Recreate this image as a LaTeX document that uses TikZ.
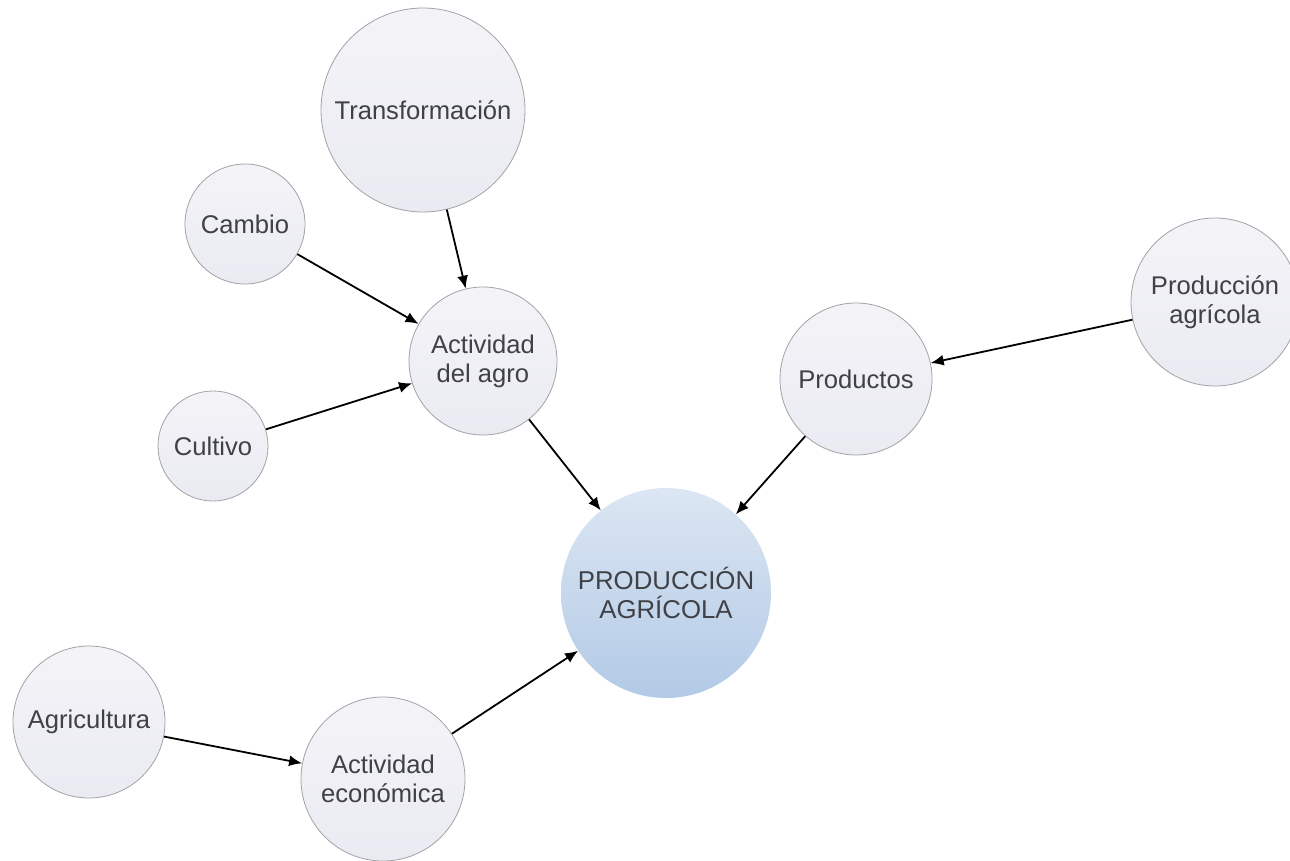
\documentclass[tikz,border=0pt]{standalone}
\usepackage{fontspec}
\setmainfont{Liberation Sans}
\usetikzlibrary{arrows.meta}
\definecolor{txt}{HTML}{404147}
\definecolor{cborder}{HTML}{A2A3A8}
\definecolor{ctop}{HTML}{F4F4F8}
\definecolor{cbot}{HTML}{EAEBF2}
\definecolor{mtop}{HTML}{DCE6F3}
\definecolor{mbot}{HTML}{B2CAE6}
\tikzset{
  bubble/.style={circle, draw=cborder, line width=0.8pt, top color=ctop, bottom color=cbot,
    inner sep=0pt, align=center, text=txt, font=\fontsize{25.6}{29}\selectfont},
  mainbubble/.style={circle, draw=none, top color=mtop, bottom color=mbot,
    inner sep=0pt, align=center, text=txt, font=\fontsize{25.8}{29}\selectfont},
  link/.style={-{Latex[length=13pt,width=11pt]}, line width=1.8pt, black}
}
\begin{document}
\begin{tikzpicture}[x=1pt,y=-1pt]
\useasboundingbox (0,0) rectangle (1290,861);
\clip (0,0) rectangle (1290,861);
\fill[white] (0,0) rectangle (1290,861);
\node[bubble, minimum size=204pt] (trans) at (423,110) {Transformación};
\node[bubble, minimum size=120pt] (cambio) at (245,224) {Cambio};
\node[bubble, minimum size=148pt] (agro) at (483,361) {Actividad\\del agro};
\node[bubble, minimum size=110pt] (cultivo) at (213,446) {Cultivo};
\node[bubble, minimum size=152pt] (productos) at (856,379) {Productos};
\node[bubble, minimum size=168pt] (prodagr) at (1215,302) {Producción\\agrícola};
\node[mainbubble, minimum size=210pt] (main) at (666,593) {PRODUCCIÓN\\AGRÍCOLA};
\node[bubble, minimum size=152pt] (agri) at (89,722) {Agricultura};
\node[bubble, minimum size=164pt] (econ) at (383,779) {Actividad\\económica};
\draw[link] (trans) -- (agro);
\draw[link] (cambio) -- (agro);
\draw[link] (cultivo) -- (agro);
\draw[link] (agro) -- (main);
\draw[link] (productos) -- (main);
\draw[link] (prodagr) -- (productos);
\draw[link] (agri) -- (econ);
\draw[link] (econ) -- (main);
\end{tikzpicture}
\end{document}
